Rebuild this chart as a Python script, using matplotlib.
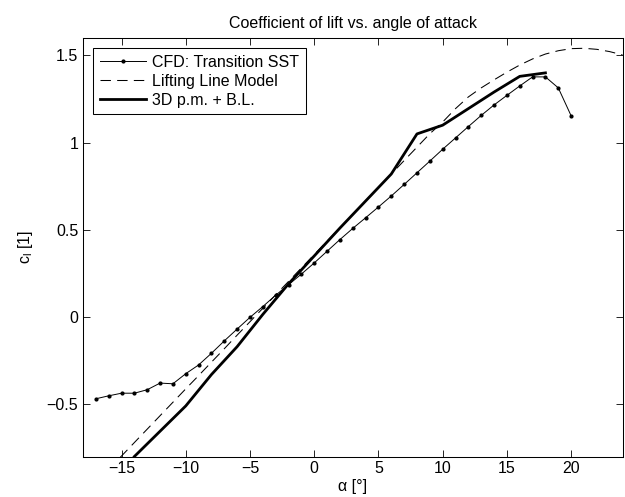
import numpy as np
import matplotlib
matplotlib.use("Agg")
import matplotlib.pyplot as plt

plt.rcParams['font.family'] = ['Liberation Sans', 'DejaVu Sans']
plt.rcParams['font.size'] = 11.5

# CFD (Transition SST), one point per degree
alpha_cfd = np.arange(-17, 21)
cl_cfd = [-0.469, -0.452, -0.437, -0.437, -0.417, -0.379, -0.383, -0.325,
          -0.275, -0.208, -0.137, -0.069, -0.002, 0.060, 0.125, 0.185,
          0.246, 0.310, 0.377, 0.444, 0.508, 0.569, 0.631, 0.694, 0.760,
          0.827, 0.894, 0.962, 1.027, 1.092, 1.156, 1.216, 1.271, 1.325,
          1.377, 1.377, 1.314, 1.154]

# lifting line model
alpha_llm = np.arange(-16, 25)
cl_llm = [-0.874, -0.797, -0.720, -0.643, -0.566, -0.489, -0.412, -0.336,
          -0.259, -0.182, -0.104, -0.027, 0.050, 0.127, 0.204, 0.281, 0.358,
          0.435, 0.512, 0.589, 0.666, 0.743, 0.820, 0.897, 0.974, 1.051,
          1.118, 1.195, 1.262, 1.314, 1.360, 1.404, 1.445, 1.480, 1.508,
          1.527, 1.539, 1.541, 1.535, 1.522, 1.503]

# 3D panel method + boundary layer
alpha_pm = np.arange(-14, 19, 2)
cl_pm = [-0.80, -0.655, -0.51, -0.33, -0.17, 0.015, 0.19, 0.35, 0.51,
         0.665, 0.82, 1.05, 1.10, 1.195, 1.29, 1.38, 1.40]

fig = plt.figure(figsize=(6.25, 4.97), dpi=100)
ax = fig.add_axes([83 / 625, 1 - 456.5 / 497, (622.5 - 83) / 625, (456.5 - 38) / 497])

ax.plot(alpha_cfd, cl_cfd, 'k-', lw=0.7, marker='.', ms=4,
        label='CFD: Transition SST')
ax.plot(alpha_llm, cl_llm, 'k--', lw=0.75, dashes=(10, 6),
        label='Lifting Line Model')
ax.plot(alpha_pm, cl_pm, 'k-', lw=2.0, label='3D p.m. + B.L.')

ax.set_xlim(-18, 24)
ax.set_ylim(-0.8, 1.6)
ax.set_xticks(np.arange(-15, 21, 5))
ax.set_yticks([-0.5, 0, 0.5, 1, 1.5])
ax.set_yticklabels(['\u22120.5', '0', '0.5', '1', '1.5'])
ax.tick_params(direction='in', top=True, right=True, length=5, width=0.6)
for s in ax.spines.values():
    s.set_linewidth(0.75)

ax.set_title('Coefficient of lift vs. angle of attack', fontsize=11.5, pad=7)
ax.set_xlabel('\u03b1 [\u00b0]', labelpad=2)
ax.set_ylabel('c$_\\mathregular{l}$ [1]', labelpad=8)

leg = ax.legend(loc='upper left', fancybox=False, edgecolor='k', framealpha=1,
                borderaxespad=0.65, handlelength=2.9, handletextpad=0.4,
                labelspacing=0.25, borderpad=0.4)
leg.get_frame().set_linewidth(0.75)

fig.savefig('out.png', dpi=100)
